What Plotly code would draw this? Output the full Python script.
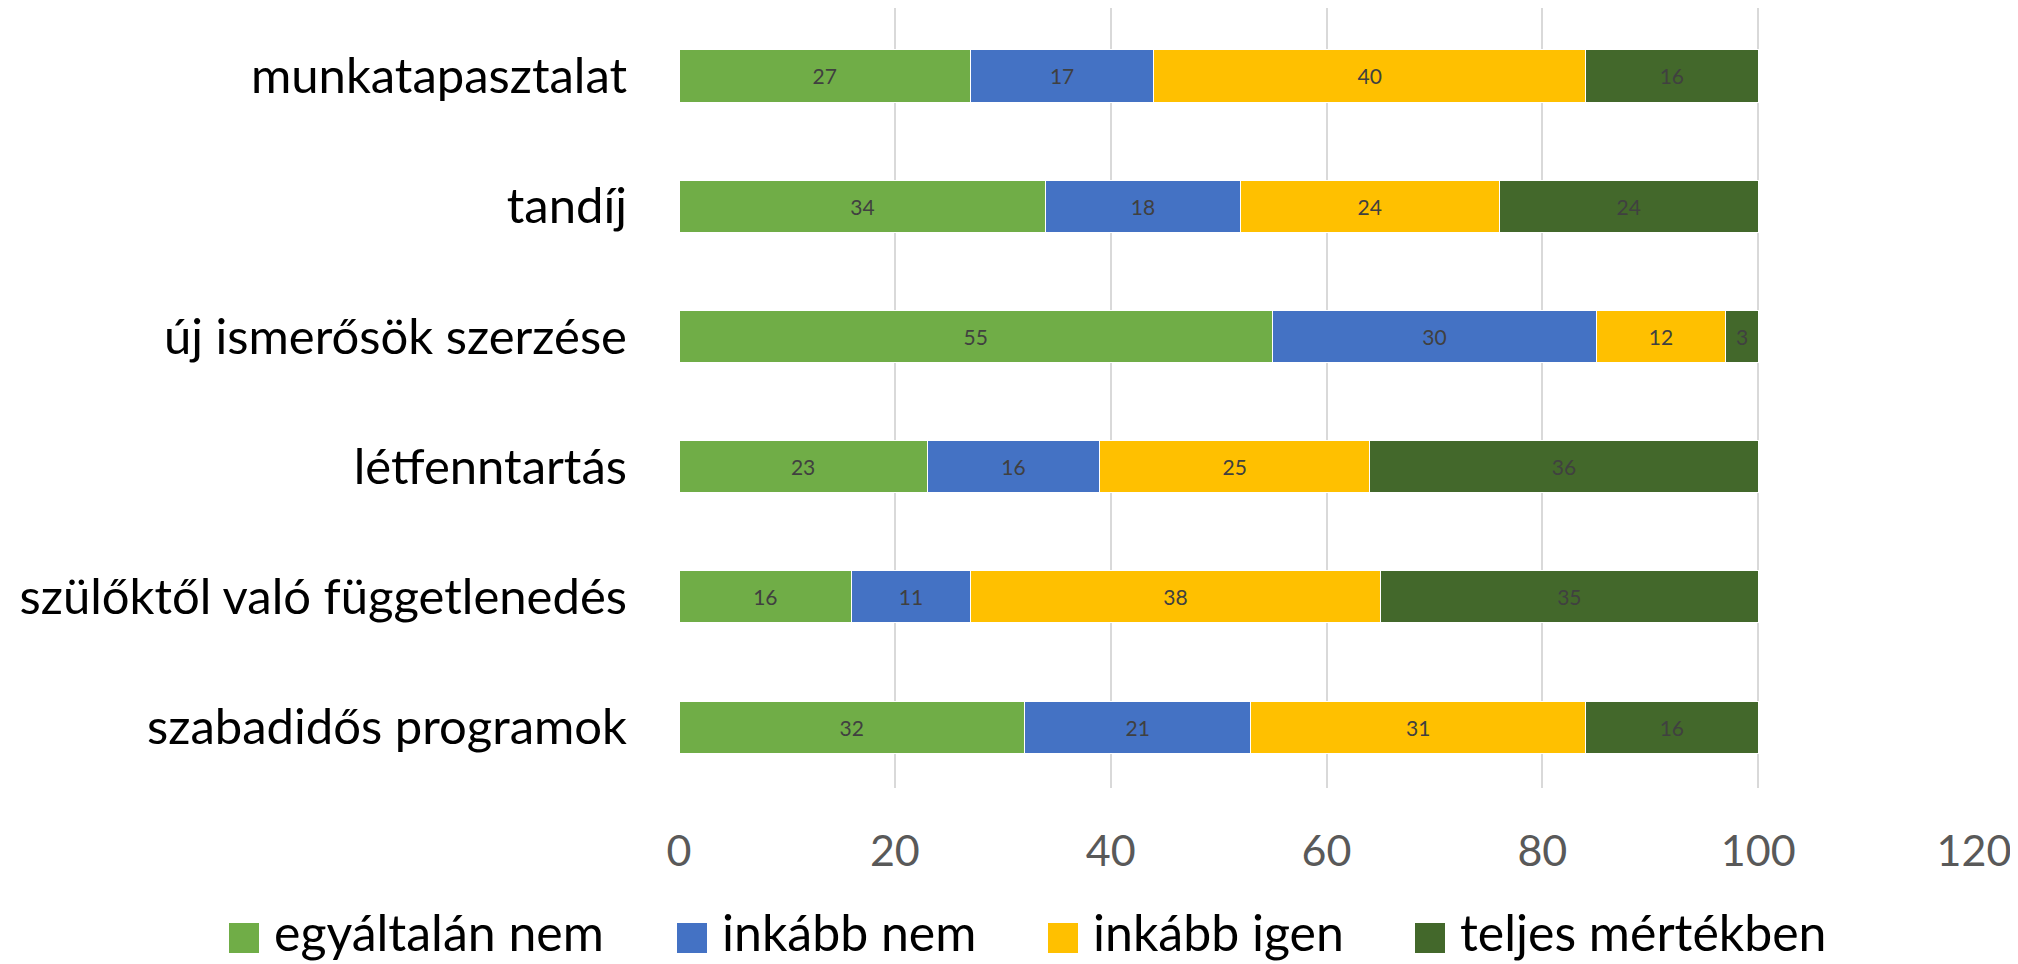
import plotly.graph_objects as go

categories = ["munkatapasztalat", "tandíj", "új ismerősök szerzése", "létfenntartás",
              "szülőktől való függetlenedés", "szabadidős programok"]
series_names = ["egyáltalán nem", "inkább nem", "inkább igen", "teljes mértékben"]
egyaltalan_nem = [27, 34, 55, 23, 16, 32]
inkabb_nem = [17, 18, 30, 16, 11, 21]
inkabb_igen = [40, 24, 12, 25, 38, 31]
teljes_mertekben = [16, 24, 3, 36, 35, 16]
x_ticks = [0, 20, 40, 60, 80, 100, 120]

colors = ["#70AD47", "#4472C4", "#FFC000", "#43682B"]
values = [egyaltalan_nem, inkabb_nem, inkabb_igen, teljes_mertekben]

# layout constants (figure pixels; page has an 8px body margin)
W, H = 2010, 956
L, R, T, B = 671, 44, 0, 176
PW, PH = W - L - R, H - T - B
legend_swatch_px = [221, 669, 1040, 1407]
legend_center_px = 930
swatch_size = 30

FONT = "Lato"
fig = go.Figure()
for name, vals, col in zip(series_names, values, colors):
    fig.add_trace(go.Bar(
        y=categories, x=vals, name=name, orientation="h",
        marker=dict(color=col, line=dict(color="white", width=1)),
        text=vals, textposition="inside", insidetextanchor="middle",
        textfont=dict(family=FONT, size=21, color="#404040"),
        constraintext="none", showlegend=False,
    ))

def px_to_paper_x(px):
    return (px - L) / PW

def px_to_paper_y(py):
    return (H - B - py) / PH

shapes, annotations = [], []
for name, col, sx in zip(series_names, colors, legend_swatch_px):
    shapes.append(dict(type="rect", xref="paper", yref="paper",
                       x0=px_to_paper_x(sx), x1=px_to_paper_x(sx + swatch_size),
                       y0=px_to_paper_y(legend_center_px + swatch_size / 2),
                       y1=px_to_paper_y(legend_center_px - swatch_size / 2),
                       fillcolor=col, line=dict(width=0), layer="above"))
    annotations.append(dict(text=name, xref="paper", yref="paper",
                            x=px_to_paper_x(sx + swatch_size + 14),
                            y=px_to_paper_y(H - 1),
                            xanchor="left", yanchor="bottom", showarrow=False,
                            borderpad=0,
                            font=dict(family=FONT, size=50, color="#000000")))

fig.update_layout(
    width=W, height=H,
    barmode="stack", bargap=0.6,
    plot_bgcolor="white", paper_bgcolor="white",
    margin=dict(l=L, r=R, t=T, b=B, autoexpand=False),
    font=dict(family=FONT),
    showlegend=False,
    shapes=shapes, annotations=annotations,
)
fig.update_xaxes(range=[0, 120], tickvals=x_ticks, showgrid=True,
                 gridcolor="#D9D9D9", gridwidth=2, zeroline=False, showline=False,
                 tickfont=dict(family=FONT, size=43, color="#595959"),
                 ticklabelstandoff=34, automargin=False)
fig.update_yaxes(categoryorder="array", categoryarray=categories,
                 range=[5.468, -0.522],
                 showgrid=False, zeroline=False, showline=False,
                 tickfont=dict(family=FONT, size=49, color="#000000"),
                 ticklabelstandoff=51, automargin=False)

fig.write_html("out.html")
